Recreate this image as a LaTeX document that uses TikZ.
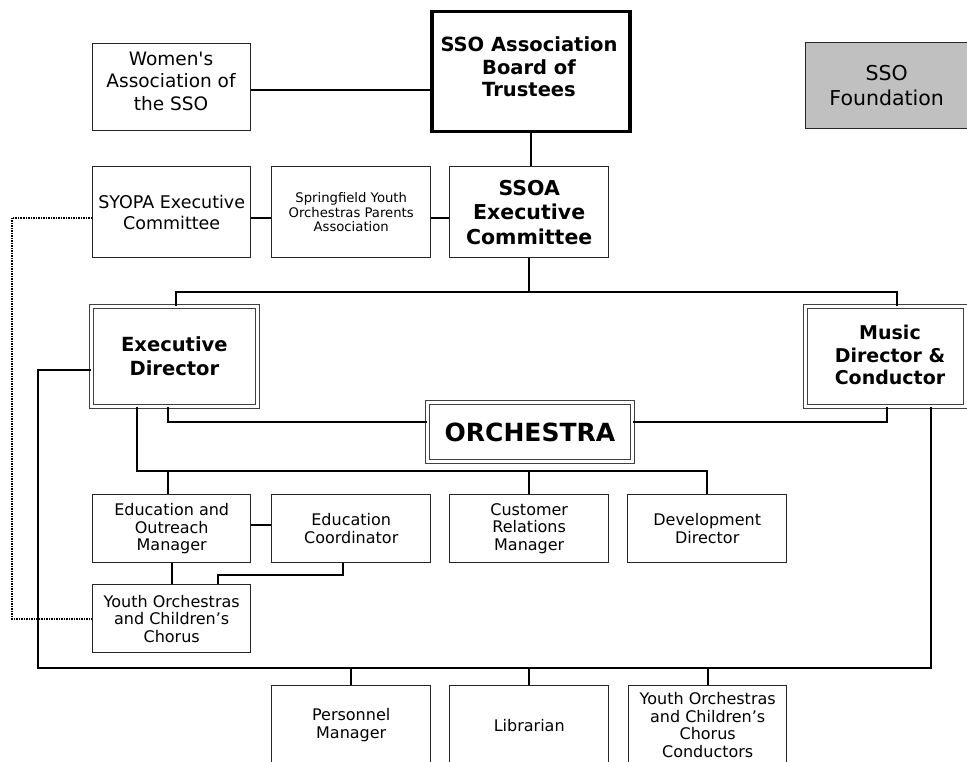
\documentclass[tikz,border=0pt]{standalone}
\usepackage{fontspec}
\setmainfont{DejaVu Sans}
\newfontfamily\rawfont{DejaVu Sans}[Ligatures=TeXOff]
\definecolor{fndgray}{HTML}{C0C0C0}
\begin{document}
\begin{tikzpicture}[x=1pt,y=-1pt,
  box/.style={draw=black!85, line width=1.4pt, rectangle, align=center, inner sep=0pt, anchor=north west},
  dbl/.style={box, draw=black!75, double=white, double distance=2.6pt, line width=0.8pt},
  txt/.style={align=center, inner sep=0pt},
  link/.style={draw=black, line width=1.7pt},
  dotline/.style={draw=black, line width=1.6pt, dash pattern=on 1.5pt off 1pt},
  fb/.style={font=\fontsize{16pt}{17.5pt}\selectfont},
  fbold/.style={font=\fontsize{19.5pt}{23.5pt}\selectfont\bfseries}]
\useasboundingbox (0,0) rectangle (967,762);
\clip (0,0) rectangle (967,762);

% top row
\node[box, minimum width=158pt, minimum height=87pt] (wom) at (92,43) {};
\node[txt, font=\fontsize{18.5pt}{22.5pt}\selectfont] (womt) at (171,81) {Women{\rawfont '}s\\Association of\\the SSO};
\node[box, line width=3.5pt, draw=black, minimum width=198pt, minimum height=120pt] (board) at (430,10) {};
\node[txt, font=\fontsize{19.5pt}{22.5pt}\selectfont\bfseries] (boardt) at (529,67) {SSO Association\\Board of\\Trustees};
\node[box, font=\fontsize{20.5pt}{25pt}\selectfont, fill=fndgray, minimum width=162pt, minimum height=86pt] (fnd) at (805,42) {SSO\\Foundation};

% second row
\node[box, font=\fontsize{17.5pt}{21pt}\selectfont, minimum width=158pt, minimum height=91pt] (syopa) at (92,166) {SYOPA Executive\\Committee};
\node[box, font=\fontsize{13.2pt}{14.8pt}\selectfont, minimum width=159pt, minimum height=91pt] (spring) at (271,166) {Springfield Youth\\Orchestras Parents\\Association};
\node[box, font=\fontsize{20.5pt}{24.5pt}\selectfont\bfseries, minimum width=159pt, minimum height=91pt] (ssoa) at (449,166) {SSOA\\Executive\\Committee};

% directors
\node[dbl, fbold, minimum width=166pt, minimum height=100pt] (ed) at (91,306) {Executive\\Director};
\node[dbl, minimum width=160pt, minimum height=100pt] (md) at (805,306) {};
\node[txt, font=\fontsize{19pt}{22.5pt}\selectfont\bfseries] (mdt) at (890,355) {Music\\Director \&\\Conductor};
\node[dbl, font=\fontsize{25pt}{28pt}\selectfont\bfseries, minimum width=205pt, minimum height=59pt] (orch) at (427,402) {ORCHESTRA};

% third row
\node[box, fb, minimum width=158pt, minimum height=68pt] (eom) at (92,494) {Education and\\Outreach\\Manager};
\node[box, fb, minimum width=159pt, minimum height=68pt] (ec) at (271,494) {Education\\Coordinator};
\node[box, fb, minimum width=159pt, minimum height=68pt] (crm) at (449,494) {Customer\\Relations\\Manager};
\node[box, fb, minimum width=159pt, minimum height=68pt] (dev) at (627,494) {Development\\Director};

\node[box, fb, minimum width=158pt, minimum height=68pt] (yo) at (92,584) {Youth Orchestras\\and Children’s\\Chorus};

% bottom row
\node[box, fb, minimum width=159pt, minimum height=79pt] (pm) at (271,685) {Personnel\\Manager};
\node[box, fb, minimum width=159pt, minimum height=79pt] (lib) at (449,685) {Librarian};
\node[box, fb, minimum width=158pt, minimum height=79pt] (yoc) at (628,685) {Youth Orchestras\\and Children’s\\Chorus\\Conductors};

% helper coordinates
\coordinate (ya) at (0,90);
\coordinate (yb) at (0,218);
\coordinate (yc) at (0,292);
\coordinate (yd) at (0,422);
\coordinate (ye) at (0,471);
\coordinate (yf) at (0,525);
\coordinate (yg) at (0,575);
\coordinate (yh) at (0,370);
\coordinate (yi) at (0,668);
\coordinate (xed) at (176,0);
\coordinate (xmd) at (897,0);
\coordinate (xa) at (168,0);
\coordinate (xb) at (887,0);
\coordinate (xc) at (137,0);
\coordinate (xd) at (343,0);
\coordinate (xe) at (218,0);
\coordinate (xf) at (38,0);
\coordinate (xg) at (931,0);
\coordinate (dl) at (12,0);

% connectors
\draw[link] (wom.east|-ya) -- (board.west|-ya);
\draw[link] (board.south) -- (board.south|-ssoa.north);
\draw[link] (syopa.east|-yb) -- (spring.west|-yb);
\draw[link] (spring.east|-yb) -- (ssoa.west|-yb);
\draw[link] (ssoa.south) -- (ssoa.south|-yc);
\draw[link] (xed|-ed.north) -- (xed|-yc) -- (xmd|-yc) -- (xmd|-md.north);
\draw[link] (xa|-ed.south) -- (xa|-yd) -- (orch.west|-yd);
\draw[link] (xb|-md.south) -- (xb|-yd) -- (orch.east|-yd);
\draw[link] (xc|-ed.south) -- (xc|-ye) -- (dev.north|-ye) -- (dev.north);
\draw[link] (xa|-ye) -- (xa|-eom.north);
\draw[link] (crm.north|-ye) -- (crm.north);
\draw[link] (eom.east|-yf) -- (ec.west|-yf);
\draw[link] (eom.south) -- (eom.south|-yo.north);
\draw[link] (xd|-ec.south) -- (xd|-yg) -- (xe|-yg) -- (xe|-yo.north);
\draw[link] (ed.west|-yh) -- (xf|-yh) -- (xf|-yi) -- (xg|-yi) -- (xg|-md.south);
\draw[link] (pm.north|-yi) -- (pm.north);
\draw[link] (lib.north|-yi) -- (lib.north);
\draw[link] (yoc.north|-yi) -- (yoc.north);
\draw[dotline] (syopa.west|-yb) -- (dl|-yb) -- (dl|-yo.west) -- (yo.west);
\end{tikzpicture}
\end{document}
